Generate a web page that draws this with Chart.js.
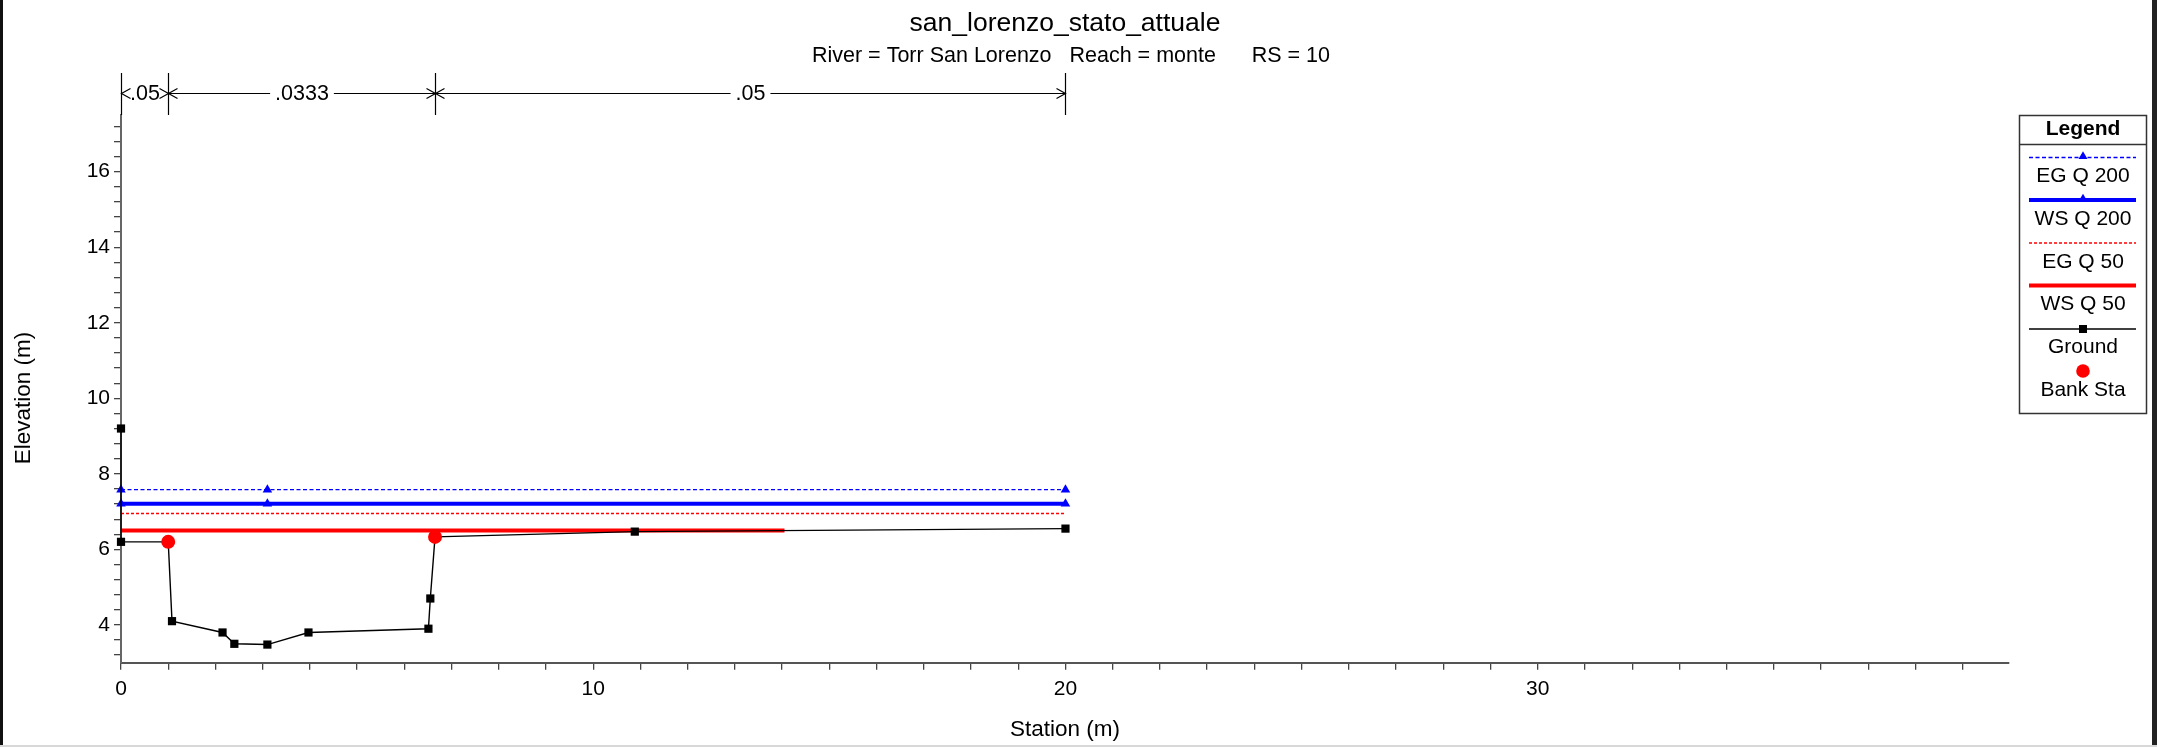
<!DOCTYPE html>
<html><head><meta charset="utf-8">
<script src="https://cdn.jsdelivr.net/npm/chart.js@4.4.1/dist/chart.umd.min.js"></script>
<style>
html,body{margin:0;padding:0;background:#fff;overflow:hidden}
#wrap{position:relative;width:2157px;height:747px}
canvas{display:block}
</style></head><body>
<div id="wrap"><canvas id="c" width="2157" height="747"></canvas></div>
<script>
// ---------- data ----------
const chartTitle = 'san_lorenzo_stato_attuale';
const chartSubtitle = 'River = Torr San Lorenzo   Reach = monte      RS = 10';
const xAxisTitle = 'Station (m)';
const yAxisTitle = 'Elevation (m)';

const groundStation = [0, 0, 1.0, 1.08, 2.15, 2.4, 3.1, 3.97, 6.51, 6.55, 6.65, 10.88, 20];
const groundElev    = [9.2, 6.2, 6.2, 4.1, 3.8, 3.5, 3.48, 3.8, 3.9, 4.7, 6.33, 6.47, 6.55];
const bankStation = [1.0, 6.65];
const bankElev    = [6.2, 6.33];
const egQ200Station = [0, 3.1, 20];
const egQ200Elev    = [7.58, 7.58, 7.58];
const wsQ200Station = [0, 3.1, 20];
const wsQ200Elev    = [7.21, 7.21, 7.21];
const egQ50Station = [0, 20];
const egQ50Elev    = [6.95, 6.95];
const wsQ50Station = [0, 14.05];
const wsQ50Elev    = [6.5, 6.5];

const nBreakStations = [0, 1.0, 6.65, 20];
const nValues = ['.05', '.0333', '.05'];

const legendLabels = ['EG Q 200', 'WS Q 200', 'EG Q 50', 'WS Q 50', 'Ground', 'Bank Sta'];
const xTickLabels = [0, 10, 20, 30];
const yTickLabels = [4, 6, 8, 10, 12, 14, 16];
const xMinorStep = 1;
const yMinorStep = 0.4;

// ---------- helpers ----------
const FONT = '"Liberation Sans", Arial, Helvetica, sans-serif';
const pts = (xs, ys) => xs.map((x, i) => ({x: x, y: ys[i]}));
const BLUE = '#0000ff', RED = '#ff0000', BLACK = '#000000';

const styles = {
  'EG Q 200': {color: BLUE, width: 1.3, dash: [4, 2.5], marker: 'triangle'},
  'WS Q 200': {color: BLUE, width: 4, dash: [], marker: 'triangle'},
  'EG Q 50':  {color: RED, width: 1.3, dash: [3, 2], marker: null},
  'WS Q 50':  {color: RED, width: 4, dash: [], marker: null},
  'Ground':   {color: BLACK, width: 1.4, dash: [], marker: 'rect'},
  'Bank Sta': {color: RED, width: 0, dash: [], marker: 'circle'}
};

// ---------- plugins ----------
const bgPlugin = {
  id: 'bg',
  beforeDraw(chart) {
    const c = chart.ctx;
    c.save(); c.fillStyle = '#fff'; c.fillRect(0, 0, chart.width, chart.height); c.restore();
  },
  afterDraw(chart) {
    const c = chart.ctx;
    c.save();
    c.fillStyle = '#111'; c.fillRect(0, 0, 3, chart.height);
    c.fillStyle = '#222'; c.fillRect(2152, 0, 5, chart.height);
    c.fillStyle = '#d8d8d8'; c.fillRect(0, 745, chart.width, 2);
    c.restore();
  }
};

const titlePlugin = {
  id: 'titles',
  afterDraw(chart) {
    const c = chart.ctx, a = chart.chartArea;
    const cx = (a.left + a.right) / 2;
    c.save();
    c.fillStyle = '#000'; c.textAlign = 'center'; c.textBaseline = 'middle';
    c.font = '26.5px ' + FONT; c.fillText(chartTitle, cx, 24);
    c.font = '21.5px ' + FONT; c.fillText(chartSubtitle, cx + 6, 56);
    // y axis title
    c.save();
    c.translate(24, 398); c.rotate(-Math.PI / 2);
    c.font = '22.5px ' + FONT; c.fillText(yAxisTitle, 0, 0);
    c.restore();
    c.restore();
  }
};

const nPlugin = {
  id: 'nvals',
  afterDraw(chart) {
    const c = chart.ctx, xs = chart.scales.x;
    const yTop = 73, yBot = chart.chartArea.top, yArr = 93.5;
    c.save();
    c.strokeStyle = '#000'; c.lineWidth = 1.2;
    const seg = (x0, y0, x1, y1) => { c.beginPath(); c.moveTo(x0, y0); c.lineTo(x1, y1); c.stroke(); };
    nBreakStations.forEach(s => { const x = Math.round(xs.getPixelForValue(s)) + 0.5; seg(x, yTop, x, yBot); });
    c.font = '21.5px ' + FONT; c.textAlign = 'center'; c.textBaseline = 'middle'; c.fillStyle = '#000';
    for (let i = 0; i < nValues.length; i++) {
      const x0 = Math.round(xs.getPixelForValue(nBreakStations[i])) + 0.5;
      const x1 = Math.round(xs.getPixelForValue(nBreakStations[i + 1])) + 0.5;
      const mid = (x0 + x1) / 2;
      const tw = c.measureText(nValues[i]).width;
      const gap = tw / 2 + 5;
      if (x1 - x0 > tw + 20) { seg(x0, yArr, mid - gap, yArr); seg(mid + gap, yArr, x1, yArr); }
      c.beginPath(); c.moveTo(x0 + 9, yArr - 5); c.lineTo(x0, yArr); c.lineTo(x0 + 9, yArr + 5); c.stroke();
      c.beginPath(); c.moveTo(x1 - 9, yArr - 5); c.lineTo(x1, yArr); c.lineTo(x1 - 9, yArr + 5); c.stroke();
      c.fillText(nValues[i], mid, yArr + 1);
    }
    c.restore();
  }
};

const legendPlugin = {
  id: 'customLegend',
  afterDraw(chart) {
    const c = chart.ctx;
    const L = 2019, R = 2146, T = 115, B = 413, sep = 144;
    const cx = (L + R) / 2 + 0.5, lx0 = 2029, lx1 = 2136;
    c.save();
    c.fillStyle = '#fff'; c.fillRect(L, T, R - L, B - T);
    c.strokeStyle = '#333'; c.lineWidth = 1.5;
    c.strokeRect(L + 0.5, T + 0.5, R - L, B - T);
    c.beginPath(); c.moveTo(L, sep + 0.5); c.lineTo(R, sep + 0.5); c.stroke();
    c.fillStyle = '#000'; c.textAlign = 'center'; c.textBaseline = 'middle';
    c.font = 'bold 21px ' + FONT; c.fillText('Legend', cx, 129);
    const lineY = [157.5, 200, 243, 285.5, 329, 371];
    const textY = [176.5, 219, 262, 304, 347, 390];
    legendLabels.forEach((lab, i) => {
      const st = styles[lab];
      if (st.width > 0) {
        c.strokeStyle = st.color; c.lineWidth = st.width; c.setLineDash(st.dash);
        c.beginPath(); c.moveTo(lx0, lineY[i]); c.lineTo(lx1, lineY[i]); c.stroke();
        c.setLineDash([]);
      }
      c.fillStyle = st.color;
      if (st.marker === 'triangle') {
        const r = 5.2, y = lineY[i] - 1;
        c.beginPath(); c.moveTo(cx, y - r); c.lineTo(cx + r * 0.866, y + r / 2); c.lineTo(cx - r * 0.866, y + r / 2); c.closePath(); c.fill();
      } else if (st.marker === 'rect') {
        c.fillRect(cx - 4, lineY[i] - 4, 8, 8);
      } else if (st.marker === 'circle') {
        c.beginPath(); c.arc(cx, lineY[i], 6.8, 0, Math.PI * 2); c.fill();
      }
      c.fillStyle = '#000'; c.font = '21px ' + FONT;
      c.fillText(lab, cx, textY[i]);
    });
    c.restore();
  }
};

// ---------- datasets ----------
const mk = (label, xs, ys, extra) => Object.assign({
  label: label, data: pts(xs, ys), showLine: true, clip: false,
  borderColor: styles[label].color, backgroundColor: styles[label].color,
  borderWidth: styles[label].width, borderDash: styles[label].dash,
  pointRadius: 0, pointHoverRadius: 0, pointBorderWidth: 0,
  pointBackgroundColor: styles[label].color
}, extra || {});

const datasets = [
  mk('Bank Sta', bankStation, bankElev, {showLine: false, pointStyle: 'circle', pointRadius: 7}),
  mk('Ground', groundStation, groundElev, {pointStyle: 'rect', pointRadius: 5.8}),
  mk('WS Q 50', wsQ50Station, wsQ50Elev),
  mk('EG Q 50', egQ50Station, egQ50Elev),
  mk('WS Q 200', wsQ200Station, wsQ200Elev, {pointStyle: 'triangle', pointRadius: 5.5}),
  mk('EG Q 200', egQ200Station, egQ200Elev, {pointStyle: 'triangle', pointRadius: 5.5})
];

const tickFont = {family: FONT, size: 21};
const titleFont = {family: FONT, size: 22.5};

new Chart(document.getElementById('c'), {
  type: 'scatter',
  data: {datasets: datasets},
  options: {
    responsive: false, animation: false, devicePixelRatio: 1,
    events: [],
    layout: {padding: {left: 0, right: 148, top: 115, bottom: 0}},
    plugins: {legend: {display: false}, tooltip: {enabled: false}, title: {display: false}},
    scales: {
      x: {
        type: 'linear', min: 0, max: 39.98,
        afterBuildTicks: s => {
          const t = [];
          for (let v = 0; v <= 39; v += xMinorStep) t.push({value: v});
          s.ticks = t;
        },
        ticks: {autoSkip: false, maxRotation: 0, padding: 7, color: '#000', font: tickFont,
          callback: v => xTickLabels.includes(Math.round(v)) ? String(Math.round(v)) : ''},
        grid: {drawOnChartArea: false, drawTicks: true, tickLength: 7, color: '#444', lineWidth: 1.3},
        border: {display: true, color: '#555', width: 2},
        title: {display: true, text: xAxisTitle, color: '#000', font: titleFont, padding: {top: 0, bottom: 4}},
        afterFit: s => { s.height = 84.3; }
      },
      y: {
        type: 'linear', min: 3.0, max: 17.5,
        afterBuildTicks: s => {
          const t = [];
          for (let i = 0; i <= 35; i++) t.push({value: Math.round((3.2 + i * yMinorStep) * 10) / 10});
          s.ticks = t;
        },
        ticks: {autoSkip: false, padding: 4, color: '#000', font: tickFont,
          callback: v => yTickLabels.includes(v) ? String(v) : ''},
        grid: {drawOnChartArea: false, drawTicks: true, tickLength: 7, color: '#444', lineWidth: 1.3},
        border: {display: true, color: '#666', width: 2},
        title: {display: false, text: yAxisTitle},
        afterFit: s => { s.width = 121; }
      }
    }
  },
  plugins: [bgPlugin, nPlugin, titlePlugin, legendPlugin]
});
</script>
</body></html>
